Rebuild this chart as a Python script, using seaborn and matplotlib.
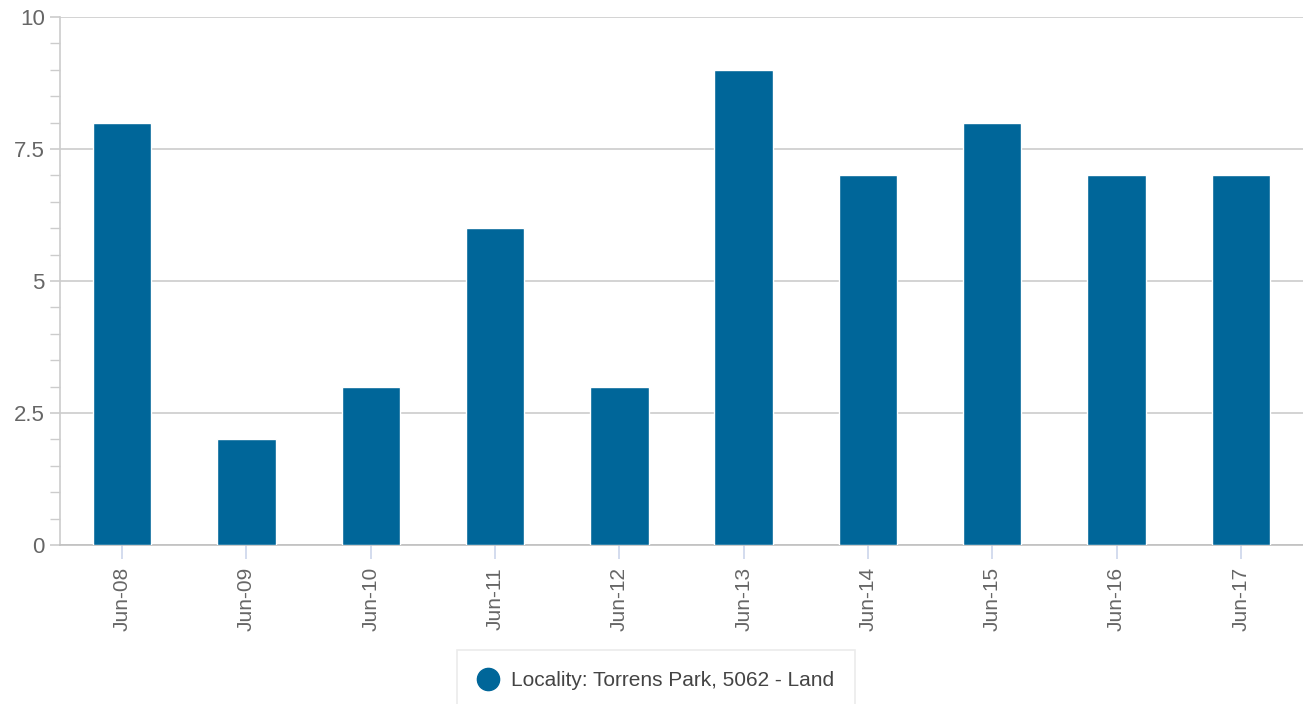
import seaborn as sns
import matplotlib.pyplot as plt
import pandas as pd
from matplotlib.lines import Line2D
from matplotlib.ticker import MultipleLocator

# data
periods = ['Jun-08', 'Jun-09', 'Jun-10', 'Jun-11', 'Jun-12',
           'Jun-13', 'Jun-14', 'Jun-15', 'Jun-16', 'Jun-17']
sales = [8, 2, 3, 6, 3, 9, 7, 8, 7, 7]
series_name = 'Locality: Torrens Park, 5062 - Land'

df = pd.DataFrame({'period': periods, 'sales': sales})

sns.set_style('white')
plt.rcParams['font.family'] = ['Liberation Sans', 'DejaVu Sans']
plt.rcParams['xtick.bottom'] = True
plt.rcParams['ytick.left'] = True
plt.rcParams['ytick.minor.visible'] = True

W, H = 1303, 704
fig = plt.figure(figsize=(W / 100, H / 100), dpi=100)
ax = fig.add_axes([60 / W, 1 - 545 / H, 1 - 60 / W, (545 - 17) / H])

sns.barplot(data=df, x='period', y='sales', color='#006699', saturation=1,
            width=0.47, edgecolor='white', linewidth=1, ax=ax, zorder=3)

ax.set_xlim(-0.5, len(periods) - 0.5)
ax.set_ylim(0, 10)
ax.set_yticks([0, 2.5, 5, 7.5, 10])
ax.set_yticklabels(['0', '2.5', '5', '7.5', '10'])
ax.yaxis.set_minor_locator(MultipleLocator(0.5))
ax.grid(axis='y', which='major', color='#cccccc', linewidth=1.2, zorder=0)
ax.set_axisbelow(True)

ax.set_xlabel('')
ax.set_ylabel('')

for side in ['top', 'right']:
    ax.spines[side].set_visible(False)
ax.spines['left'].set_color('#cccccc')
ax.spines['left'].set_linewidth(1.2)
ax.spines['bottom'].set_color('#c0c0c0')
ax.spines['bottom'].set_linewidth(1.2)

ax.tick_params(axis='y', which='major', left=True, length=7, width=1.2,
               color='#cccccc', labelsize=16, labelcolor='#666666', pad=4)
ax.tick_params(axis='y', which='minor', left=True, length=7, width=1,
               color='#cccccc')
ax.tick_params(axis='x', which='major', bottom=True, length=10, width=1.2,
               color='#ccd6eb', labelsize=15, labelcolor='#666666', pad=6)
ax.tick_params(axis='x', which='minor', bottom=False)
plt.setp(ax.get_xticklabels(), rotation=90)

handle = Line2D([], [], marker='o', linestyle='', markersize=16,
                markerfacecolor='#006699', markeredgecolor='#006699')
leg = fig.legend([handle], [series_name], loc='lower center',
                 bbox_to_anchor=(656 / W, -0.01), frameon=True, fancybox=False,
                 fontsize=15, handletextpad=0.6, borderpad=1.0,
                 borderaxespad=0, handlelength=1.0)
leg.get_frame().set_edgecolor('#e6e6e6')
leg.get_frame().set_linewidth(1.2)
for t in leg.get_texts():
    t.set_color('#444444')

fig.savefig('out.png', dpi=100)
